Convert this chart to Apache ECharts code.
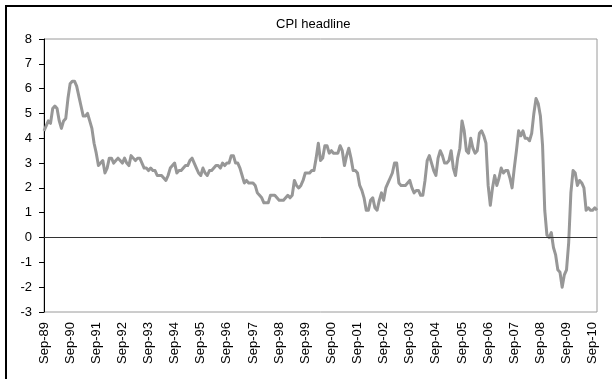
<!DOCTYPE html>
<html>
<head>
<meta charset="utf-8">
<script src="https://cdn.jsdelivr.net/npm/echarts@6/dist/echarts.min.js"></script>
<style>
  html, body { margin: 0; padding: 0; background: #fff; }
  #chart { width: 612px; height: 379px; }
</style>
</head>
<body>
<div id="chart"></div>
<script>
// Headline CPI, year-on-year % change, monthly from Sep-89
const startYear = 1989;
const startMonth = 8; // September (0-based)
const monthNames = ['Jan','Feb','Mar','Apr','May','Jun','Jul','Aug','Sep','Oct','Nov','Dec'];

const cpi1989 = [4.3, 4.5, 4.7, 4.6];
const cpi1990 = [5.2, 5.3, 5.2, 4.7, 4.4, 4.7, 4.8, 5.6, 6.2, 6.3, 6.3, 6.1];
const cpi1991 = [5.7, 5.3, 4.9, 4.9, 5.0, 4.7, 4.4, 3.8, 3.4, 2.9, 3.0, 3.1];
const cpi1992 = [2.6, 2.8, 3.2, 3.2, 3.0, 3.1, 3.2, 3.1, 3.0, 3.2, 3.0, 2.9];
const cpi1993 = [3.3, 3.2, 3.1, 3.2, 3.2, 3.0, 2.8, 2.8, 2.7, 2.8, 2.7, 2.7];
const cpi1994 = [2.5, 2.5, 2.5, 2.4, 2.3, 2.5, 2.8, 2.9, 3.0, 2.6, 2.7, 2.7];
const cpi1995 = [2.8, 2.9, 2.9, 3.1, 3.2, 3.0, 2.8, 2.6, 2.5, 2.8, 2.6, 2.5];
const cpi1996 = [2.7, 2.7, 2.8, 2.9, 2.9, 2.8, 3.0, 2.9, 3.0, 3.0, 3.3, 3.3];
const cpi1997 = [3.0, 3.0, 2.8, 2.5, 2.2, 2.3, 2.2, 2.2, 2.2, 2.1, 1.8, 1.7];
const cpi1998 = [1.6, 1.4, 1.4, 1.4, 1.7, 1.7, 1.7, 1.6, 1.5, 1.5, 1.5, 1.6];
const cpi1999 = [1.7, 1.6, 1.7, 2.3, 2.1, 2.0, 2.1, 2.3, 2.6, 2.6, 2.6, 2.7];
const cpi2000 = [2.7, 3.2, 3.8, 3.1, 3.2, 3.7, 3.7, 3.4, 3.5, 3.4, 3.4, 3.4];
const cpi2001 = [3.7, 3.5, 2.9, 3.3, 3.6, 3.2, 2.7, 2.7, 2.6, 2.1, 1.9, 1.6];
const cpi2002 = [1.1, 1.1, 1.5, 1.6, 1.2, 1.1, 1.5, 1.8, 1.5, 2.0, 2.2, 2.4];
const cpi2003 = [2.6, 3.0, 3.0, 2.2, 2.1, 2.1, 2.1, 2.2, 2.3, 2.0, 1.8, 1.9];
const cpi2004 = [1.9, 1.7, 1.7, 2.3, 3.1, 3.3, 3.0, 2.7, 2.5, 3.2, 3.5, 3.3];
const cpi2005 = [3.0, 3.0, 3.1, 3.5, 2.8, 2.5, 3.2, 3.6, 4.7, 4.3, 3.5, 3.4];
const cpi2006 = [4.0, 3.6, 3.4, 3.5, 4.2, 4.3, 4.1, 3.8, 2.1, 1.3, 2.0, 2.5];
const cpi2007 = [2.1, 2.4, 2.8, 2.6, 2.7, 2.7, 2.4, 2.0, 2.8, 3.5, 4.3, 4.1];
const cpi2008 = [4.3, 4.0, 4.0, 3.9, 4.2, 5.0, 5.6, 5.4, 4.9, 3.7, 1.1, 0.1];
const cpi2009 = [0.0, 0.2, -0.4, -0.7, -1.3, -1.4, -2.0, -1.5, -1.3, -0.2, 1.8, 2.7];
const cpi2010 = [2.6, 2.1, 2.3, 2.2, 2.0, 1.1, 1.2, 1.1, 1.1, 1.2, 1.1];

const cpi = [].concat(cpi1989, cpi1990, cpi1991, cpi1992, cpi1993, cpi1994, cpi1995,
  cpi1996, cpi1997, cpi1998, cpi1999, cpi2000, cpi2001, cpi2002, cpi2003, cpi2004,
  cpi2005, cpi2006, cpi2007, cpi2008, cpi2009, cpi2010);

// Month labels such as "Sep-89"
const months = cpi.map(function (_, i) {
  const m = (startMonth + i) % 12;
  const y = startYear + Math.floor((startMonth + i) / 12);
  return monthNames[m] + '-' + String(y % 100).padStart(2, '0');
});

const yTicks = { min: -3, max: 8, step: 1 };

const FONT = 'Arial, "Liberation Sans", sans-serif';

const chart = echarts.init(document.getElementById('chart'), null, { renderer: 'canvas' });

chart.setOption({
  animation: false,
  backgroundColor: '#ffffff',
  title: {
    text: 'CPI headline',
    left: 276,
    top: 18,
    padding: 0,
    textStyle: { fontFamily: FONT, fontSize: 13, fontWeight: 'normal', color: '#000' }
  },
  graphic: [{
    type: 'rect',
    silent: true,
    shape: { x: 6, y: 6, width: 700, height: 500 },
    style: { fill: 'none', stroke: '#000', lineWidth: 2 }
  }],
  grid: {
    left: 44, right: 15, top: 39, bottom: 67,
    show: true,
    borderColor: '#9a9a9a',
    borderWidth: 1,
    backgroundColor: 'transparent'
  },
  xAxis: {
    type: 'category',
    data: months,
    boundaryGap: false,
    axisLine: { show: true, lineStyle: { color: '#9a9a9a', width: 1 } },
    axisTick: { show: false },
    splitLine: { show: false },
    axisLabel: {
      rotate: 90,
      margin: 10,
      interval: function (i) { return i % 12 === 0; },
      fontFamily: FONT,
      fontSize: 13,
      color: '#000'
    }
  },
  yAxis: {
    type: 'value',
    min: yTicks.min,
    max: yTicks.max,
    interval: yTicks.step,
    axisLine: { show: true, lineStyle: { color: '#000', width: 1 } },
    axisTick: { show: true, inside: false, length: 5, lineStyle: { color: '#000' } },
    splitLine: { show: false },
    axisLabel: {
      margin: 12,
      fontFamily: FONT,
      fontSize: 13,
      color: '#000'
    }
  },
  series: [{
    name: 'CPI headline',
    type: 'line',
    data: cpi,
    showSymbol: false,
    symbol: 'none',
    lineStyle: { color: '#979797', width: 3, join: 'round' },
    markLine: {
      silent: true,
      symbol: 'none',
      label: { show: false },
      lineStyle: { color: '#333', width: 1, type: 'solid' },
      data: [{ yAxis: 0 }]
    }
  }]
});
</script>
</body>
</html>
